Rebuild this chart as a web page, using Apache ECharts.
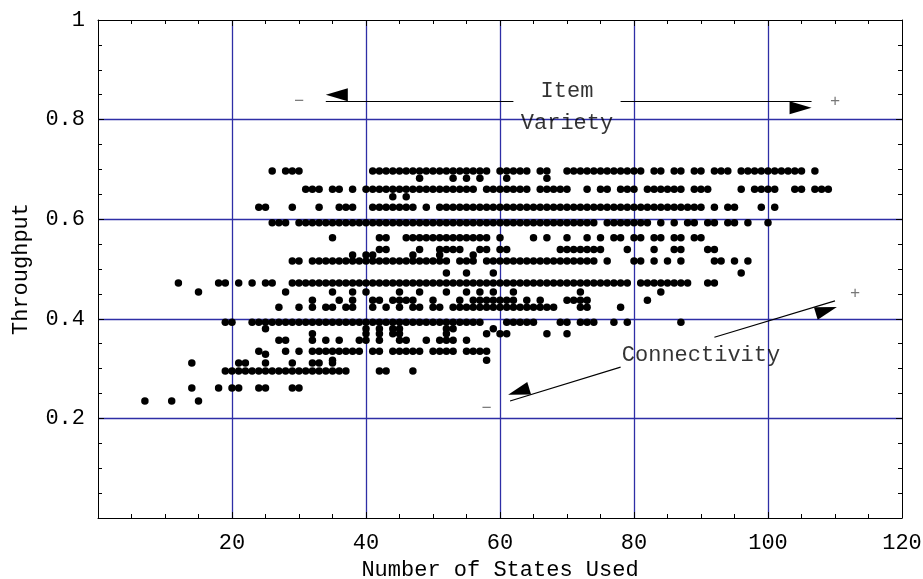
<!DOCTYPE html>
<html>
<head>
<meta charset="utf-8">
<script src="https://cdn.jsdelivr.net/npm/echarts@6/dist/echarts.min.js"></script>
<style>
html,body{margin:0;padding:0;background:#fff;}
#c{width:923px;height:579px;}
</style>
</head>
<body>
<div id="c"></div>
<script>
// ---- Data ----
// Each throughput level holds the list of "Number of States Used" values plotted at that level.
const L0697 = [26,28,29,30,41,42,43,44,45,46,47,48,49,50,51,52,53,54,55,56,57,58,60,61,62,63,64,66,67,70,71,72,73,74,75,76,77,78,79,80,81,83,84,86,87,89,90,92,93,94,96,97,98,99,100,101,102,103,104,105,107];
const L0682 = [48,53,55,57,61,67];
const L0660 = [31,32,33,35,36,38,40,41,42,43,44,45,46,47,48,49,50,51,52,53,54,55,56,58,59,60,61,62,63,64,66,67,68,69,70,73,75,76,78,79,80,82,83,84,85,86,87,89,90,91,96,98,99,100,101,104,105,107,108,109];
const L0645 = [44,46];
const L0624 = [24,25,29,33,36,37,38,41,42,43,44,45,46,47,49,51,52,53,54,55,56,57,58,59,60,61,62,63,64,65,66,67,68,69,70,71,72,73,74,75,76,77,78,79,80,81,82,83,84,85,86,87,88,89,90,92,94,95,99,101];
const L0593 = [26,27,28,30,31,32,33,34,35,36,37,38,39,40,41,42,43,44,45,46,47,48,49,50,51,52,53,54,55,56,57,58,59,60,61,62,63,64,65,66,67,68,69,70,71,72,73,74,76,77,78,79,80,81,82,84,86,88,89,91,92,94,95,97,100];
const L0563 = [35,42,43,46,47,48,49,50,51,52,53,54,55,56,57,58,60,65,67,70,73,75,77,78,80,81,83,84,86,87,89,90];
const L0539 = [42,43,48,51,52,53,54,57,58,60,61,69,70,71,72,73,74,75,79,83,86,87,91,92];
const L0528 = [38,40,41,47,51,56];
const L0516 = [29,30,32,33,34,35,36,37,38,39,40,41,42,43,44,45,46,47,48,49,50,51,52,54,55,56,58,59,60,61,62,63,64,65,66,67,68,69,70,71,72,73,74,76,80,81,83,85,87,92,93,95,97];
const L0492 = [52,55,59,96];
const L0472 = [12,18,19,21,23,25,26,29,30,31,32,33,34,35,36,37,38,39,40,41,42,43,44,45,46,47,48,49,50,51,52,53,54,55,56,57,58,59,60,61,62,63,64,65,66,67,68,69,70,71,72,73,74,75,76,77,78,79,81,82,83,84,85,86,87,88,91,92];
const L0454 = [15,28,35,38,40,45,48,52,55,57,59,62,72,84];
const L0437 = [32,36,38,41,42,44,45,46,47,50,54,56,57,58,59,60,61,62,64,66,70,71,72,73,82];
const L0423 = [27,30,32,34,35,37,38,41,43,45,47,48,50,51,53,54,55,56,57,58,59,60,61,62,63,64,65,66,67,68,72,73,78];
const L0393 = [19,20,23,24,25,26,27,28,29,30,31,32,33,34,35,36,37,38,39,40,41,42,43,44,45,46,47,48,49,50,51,52,53,54,55,56,57,61,62,63,64,65,69,70,72,73,74,77,79,87];
const L0380 = [25,40,42,44,45,52,53,59];
const L0370 = [32,40,42,44,45,52,58,60,61,67,70];
const L0357 = [27,28,32,34,36,39,40,42,45,46,49,51,52,53,55];
const L0335 = [24,28,30,32,33,34,35,36,37,38,39,41,42,44,45,46,47,48,50,51,52,53,55,56,57,58];
const L0329 = [25];
const L0317 = [35,58];
const L0311 = [14,21,22,25,29,32,33,35];
const L0295 = [19,20,21,22,23,24,25,26,27,28,29,30,31,32,33,34,35,36,37,42,43,47];
const L0261 = [14,18,20,21,24,25,29,30];
const L0235 = [7,11,15];

const throughputLevels = [0.697,0.682,0.660,0.645,0.624,0.593,0.563,0.539,0.528,0.516,0.492,0.472,0.454,0.437,0.423,0.393,0.380,0.370,0.357,0.335,0.329,0.317,0.311,0.295,0.261,0.235];
const statesLists = [L0697,L0682,L0660,L0645,L0624,L0593,L0563,L0539,L0528,L0516,L0492,L0472,L0454,L0437,L0423,L0393,L0380,L0370,L0357,L0335,L0329,L0317,L0311,L0295,L0261,L0235];

// axis ticks
const xTicks = [20,40,60,80,100,120];
const yTicks = [0.2,0.4,0.6,0.8,1];

// annotations (data coordinates)
const annoText = ['Item\nVariety','Connectivity','\u2212','+','\u2212','+'];
const annoX    = [70, 90, 30, 110, 58, 113];
const annoY    = [0.825, 0.327, 0.837, 0.837, 0.22, 0.45];
const arrowFrom = [[62,0.837],[78,0.837],[78,0.303],[92,0.363]];
const arrowTo   = [[34,0.837],[106.5,0.837],[61.5,0.235],[110,0.436]];

// ---- Build ----
const points = [];
throughputLevels.forEach((y, i) => statesLists[i].forEach(x => points.push([x, y])));

const FONT = "'Liberation Mono', 'DejaVu Sans Mono', monospace";
const GRIDCOL = '#2e2ea6';

const annoData = annoText.map((t, i) => {
  const sign = (t === '+' || t === '\u2212');
  return {
    value: [annoX[i], annoY[i]],
    label: {
      show: true, formatter: t, position: 'inside', align: 'center', verticalAlign: 'middle',
      fontFamily: FONT, fontSize: sign ? 17 : 22, lineHeight: 32,
      color: sign ? '#555' : '#000'
    }
  };
});

const chart = echarts.init(document.getElementById('c'), null, {renderer: 'canvas'});

const baseX = {
  type: 'value', min: 0, max: 120, interval: 20,
  axisLine: {show: true, onZero: false, lineStyle: {color: '#000', width: 1}},
  axisTick: {show: true, inside: true, length: 6, lineStyle: {color: '#000'}},
  minorTick: {show: true, splitNumber: 4, length: 4, lineStyle: {color: '#000'}},
  minorSplitLine: {show: false}
};
const baseY = {
  type: 'value', min: 0, max: 1, interval: 0.2,
  axisLine: {show: true, onZero: false, lineStyle: {color: '#000', width: 1}},
  axisTick: {show: true, inside: true, length: 6, lineStyle: {color: '#000'}},
  minorTick: {show: true, splitNumber: 4, length: 4, lineStyle: {color: '#000'}},
  minorSplitLine: {show: false}
};

const option = {
  animation: false,
  backgroundColor: '#fff',
  grid: {left: 98, right: 21, top: 20, bottom: 61, outerBoundsMode: 'none', containLabel: false},
  xAxis: [
    Object.assign({}, baseX, {
      position: 'bottom',
      name: 'Number of States Used', nameLocation: 'middle', nameGap: 41,
      nameTextStyle: {fontFamily: FONT, fontSize: 22, color: '#000'},
      axisLabel: {
        fontFamily: FONT, fontSize: 22, color: '#000', margin: 14,
        formatter: v => (xTicks.indexOf(v) >= 0 ? String(v) : '')
      },
      splitLine: {show: true, showMinLine: false, showMaxLine: false, lineStyle: {color: GRIDCOL, width: 1.3}}
    }),
    Object.assign({}, baseX, {
      position: 'top', axisLabel: {show: false}, splitLine: {show: false}
    })
  ],
  yAxis: [
    Object.assign({}, baseY, {
      position: 'left',
      name: 'Throughput', nameLocation: 'middle', nameGap: 66, nameRotate: 90,
      nameTextStyle: {fontFamily: FONT, fontSize: 22, color: '#000'},
      axisLabel: {
        fontFamily: FONT, fontSize: 22, color: '#000', margin: 13,
        formatter: v => {
          const r = Math.round(v * 10) / 10;
          return yTicks.indexOf(r) >= 0 ? String(r) : '';
        }
      },
      splitLine: {show: true, showMinLine: false, showMaxLine: false, lineStyle: {color: GRIDCOL, width: 1.3}}
    }),
    Object.assign({}, baseY, {
      position: 'right', axisLabel: {show: false}, splitLine: {show: false}
    })
  ],
  series: [
    {
      type: 'scatter', xAxisIndex: 0, yAxisIndex: 0,
      data: points, symbol: 'circle', symbolSize: 7.5,
      itemStyle: {color: '#000', opacity: 1}, silent: true,
      emphasis: {disabled: true},
      markLine: {
        silent: true, animation: false,
        symbol: ['none', 'triangle'], symbolSize: [13, 22], symbolOffset: [0, '50%'],
        label: {show: false},
        lineStyle: {color: '#000', width: 1.1, type: 'solid', opacity: 1},
        emphasis: {disabled: true},
        data: arrowFrom.map((f, i) => [{coord: f}, {coord: arrowTo[i]}])
      }
    },
    {
      type: 'scatter', xAxisIndex: 0, yAxisIndex: 0,
      data: annoData, symbol: 'circle', symbolSize: 0, silent: true,
      itemStyle: {color: 'rgba(0,0,0,0)'},
      emphasis: {disabled: true}
    }
  ]
};
chart.setOption(option);
</script>
</body>
</html>
